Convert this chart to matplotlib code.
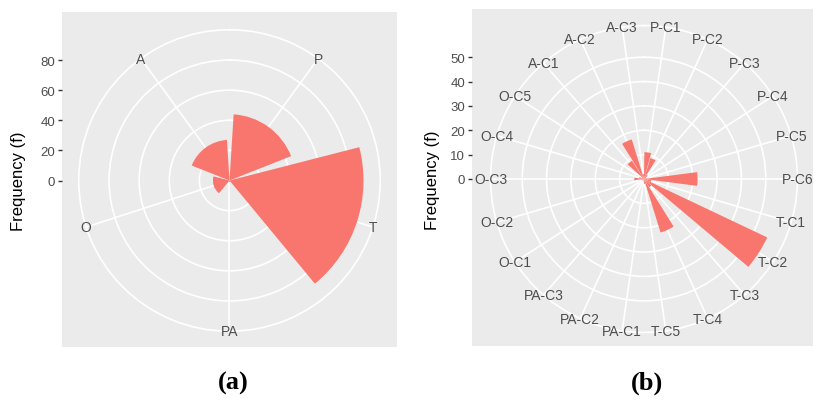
import numpy as np
import matplotlib
matplotlib.use("Agg")
import matplotlib.pyplot as plt

# panel (a): main categories
cats_a = ["P", "T", "PA", "O", "A"]
freq_a = [44, 89, 1, 11, 27]
ticks_a = [0, 20, 40, 60, 80]

# panel (b): sub-categories
cats_b = ["P-C1", "P-C2", "P-C3", "P-C4", "P-C5", "P-C6",
          "T-C1", "T-C2", "T-C3", "T-C4", "T-C5",
          "PA-C1", "PA-C2", "PA-C3",
          "O-C1", "O-C2", "O-C3", "O-C4", "O-C5",
          "A-C1", "A-C2", "A-C3"]
freq_b = [11, 9, 2, 1, 1, 22,
          3, 56, 4, 23, 2,
          1, 0, 0,
          1, 1, 4, 2, 1,
          9, 17, 2]
ticks_b = [0, 10, 20, 30, 40, 50]

W, H = 814, 410
BG, BAR, TXT = "#EBEBEB", "#F8766D", "#4D4D4D"
FONT = "Liberation Sans"


def panel(fig, box, center, label_x, cats, vals, ticks):
    x0, y0, x1, y1 = box
    cx, cy = center
    size = x1 - x0
    s = 0.4 * size / max(vals)          # px per data unit
    rmax = max(vals) * 0.45 / 0.4       # outer (label) circle

    # gray panel + y axis ticks
    fr = fig.add_axes([x0 / W, 1 - y1 / H, (x1 - x0) / W, (y1 - y0) / H])
    fr.set_facecolor(BG)
    for sp in fr.spines.values():
        sp.set_visible(False)
    fr.set_xticks([])
    fr.set_ylim(-(y1 - cy) / s, (cy - y0) / s)
    fr.set_yticks(ticks)
    fr.set_yticklabels([str(t) for t in ticks], family=FONT, fontsize=9.5, color=TXT)
    fr.tick_params(axis="y", length=3, width=1, color="#333333", pad=2)
    fr.set_ylabel("Frequency (f)", family=FONT, fontsize=12, color="black")
    fr.yaxis.set_label_coords((label_x - x0) / (x1 - x0), (y1 - cy) / (y1 - y0))

    # polar part
    R = 0.45 * size
    ax = fig.add_axes([(cx - R) / W, 1 - (cy + R) / H, 2 * R / W, 2 * R / H],
                      projection="polar")
    ax.set_facecolor("none")
    ax.set_theta_zero_location("N")
    ax.set_theta_direction(-1)
    n = len(cats)
    step = 2 * np.pi / n
    theta = (np.arange(n) + 0.5) * step
    ax.set_axisbelow(True)
    ax.bar(theta, vals, width=0.9 * step, color=BAR, edgecolor="none", zorder=3)
    ax.set_ylim(0, rmax)
    ax.set_xticks(theta)
    ax.set_xticklabels([])
    ax.set_yticks([t for t in ticks if t > 0])
    ax.set_yticklabels([])
    ax.grid(True, color="white", lw=1.2)
    ax.tick_params(length=0)
    ax.spines["polar"].set_color("white")
    ax.spines["polar"].set_linewidth(1.2)
    for th, lab in zip(theta, cats):
        ax.text(th, rmax, lab, ha="center", va="center", family=FONT,
                fontsize=10, color=TXT, zorder=5)


fig = plt.figure(figsize=(W / 100, H / 100), dpi=100)
panel(fig, (62, 13, 397, 348), (229.5, 181.5), 26, cats_a, freq_a, ticks_a)
panel(fig, (472, 10, 813, 347), (644, 180), 440, cats_b, freq_b, ticks_b)

fig.text(233 / W, 1 - 383 / H, "(a)", ha="center", va="center",
         family="Liberation Serif", fontweight="bold", fontsize=19)
fig.text(647 / W, 1 - 383 / H, "(b)", ha="center", va="center",
         family="Liberation Serif", fontweight="bold", fontsize=19)

fig.savefig("out.png", dpi=100)
